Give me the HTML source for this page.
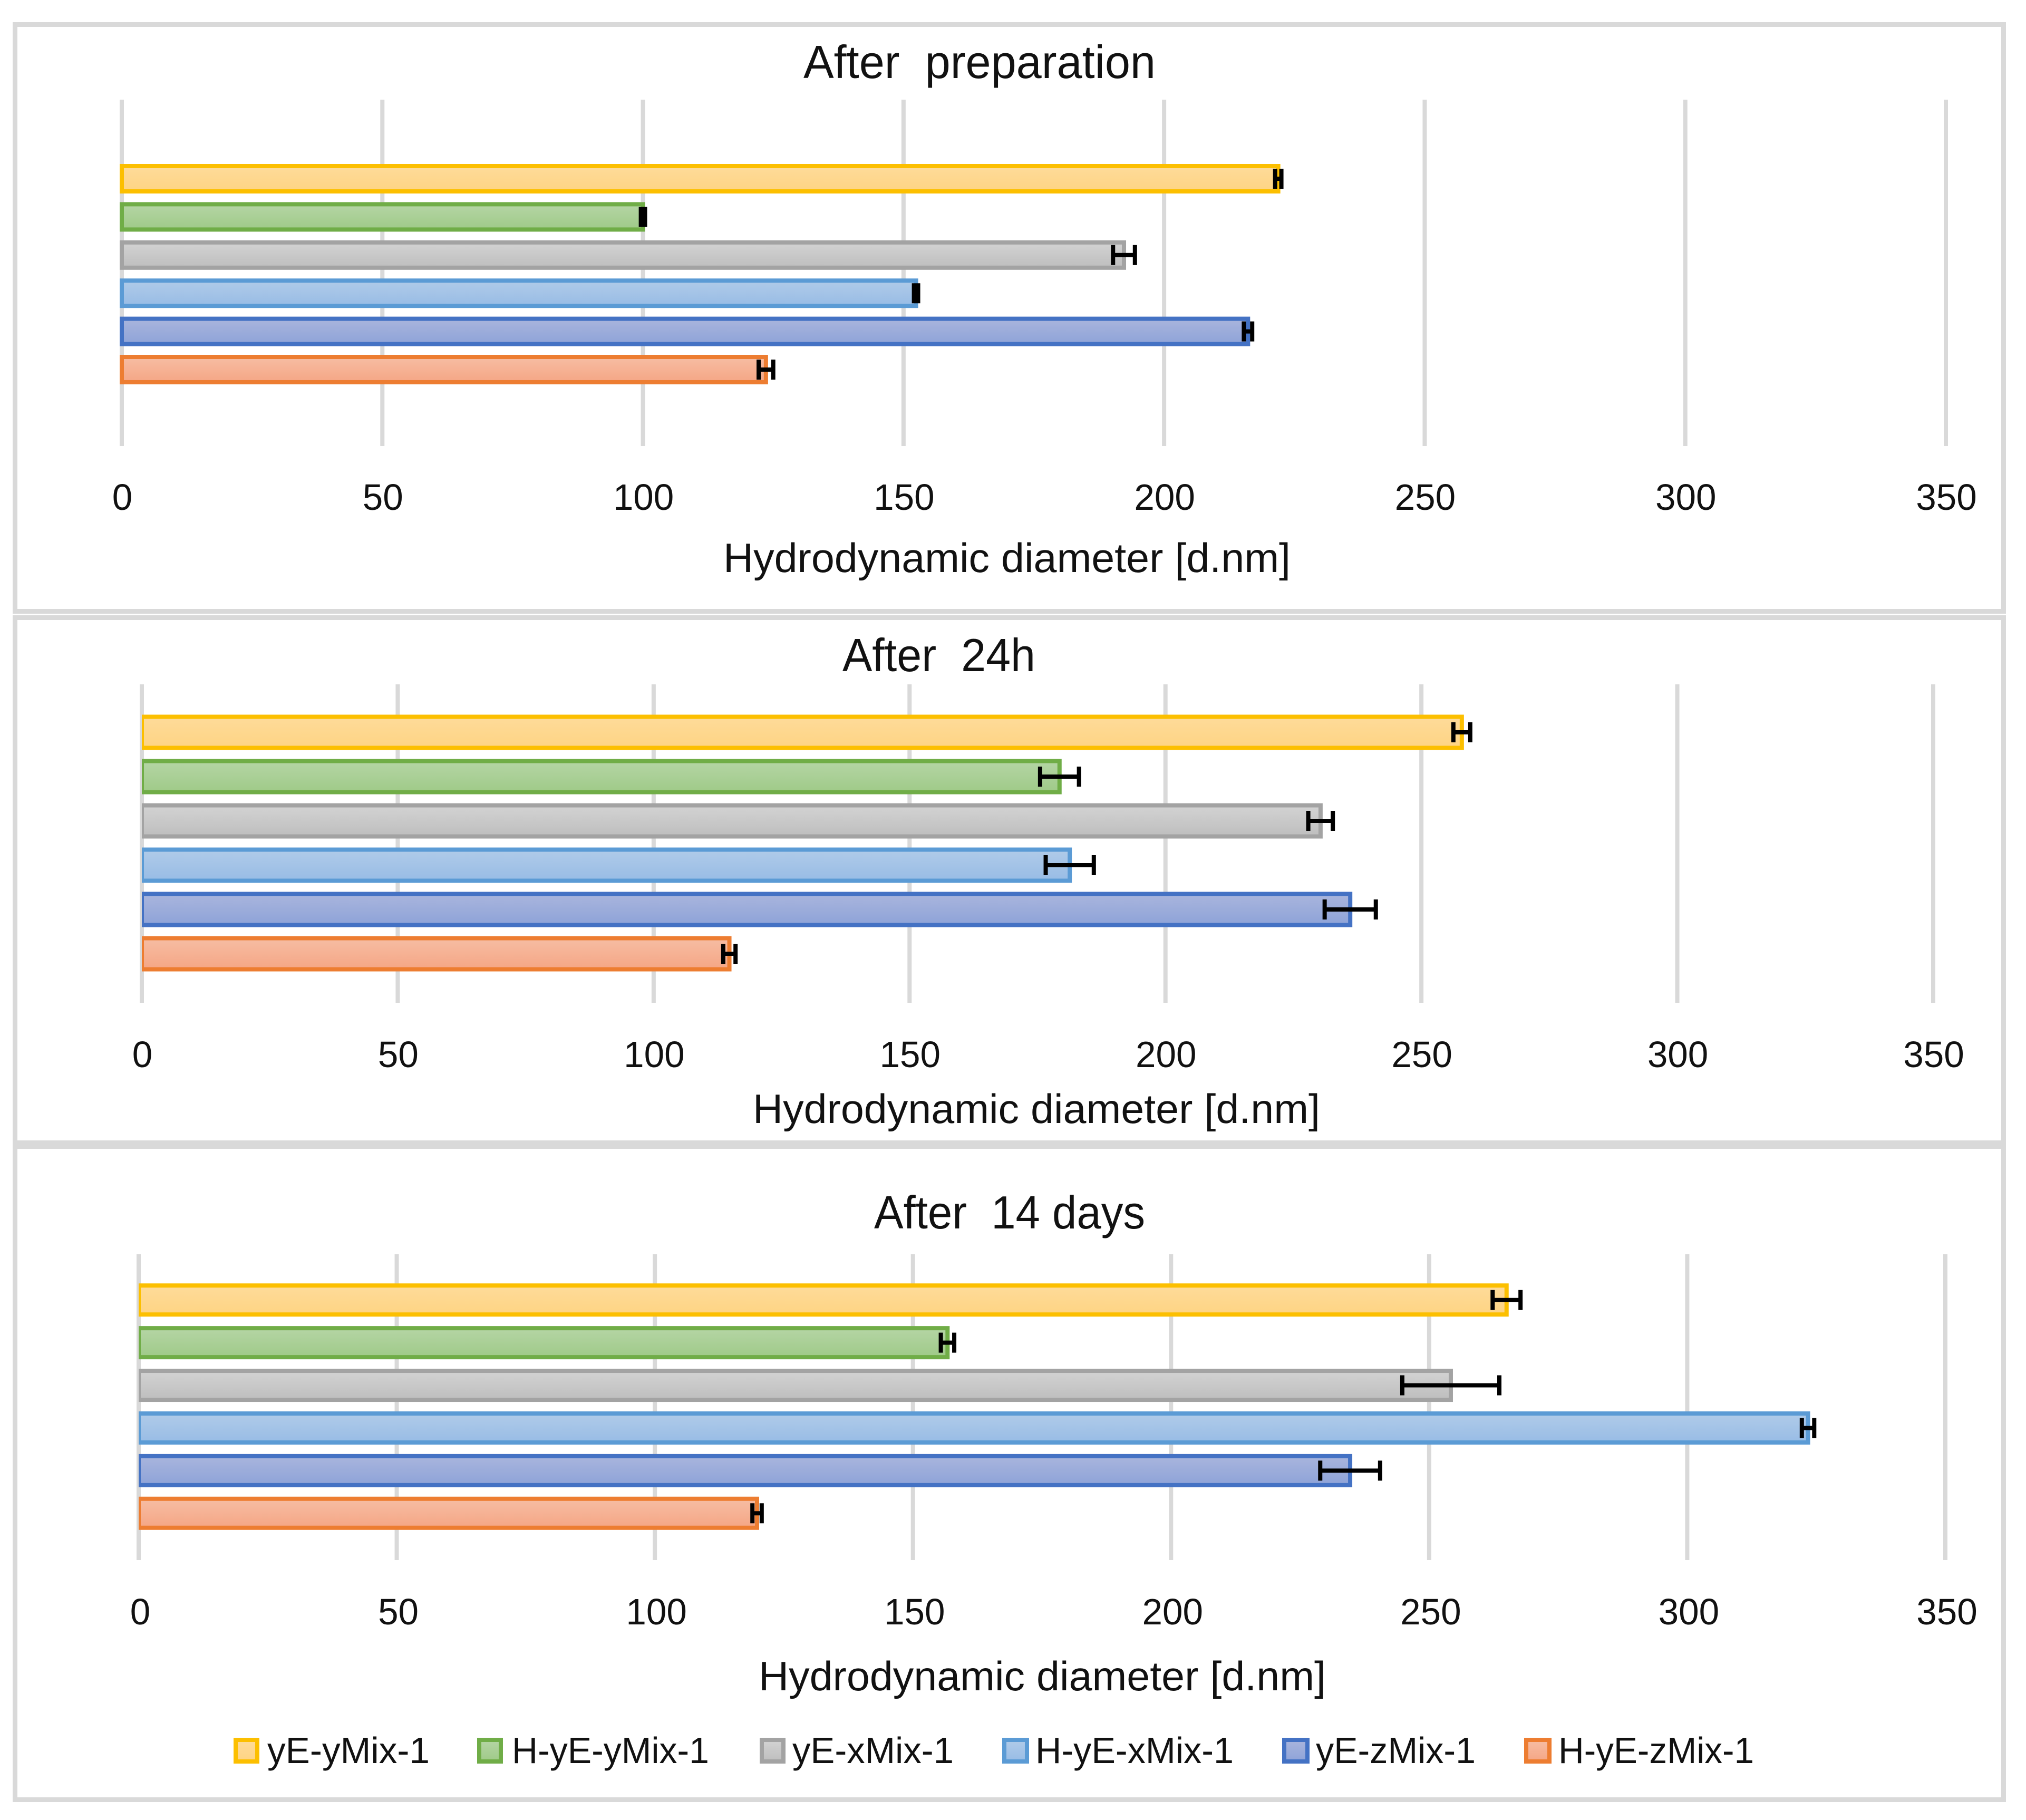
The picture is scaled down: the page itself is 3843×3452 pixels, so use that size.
<!DOCTYPE html>
<html lang="en">
<head>
<meta charset="utf-8">
<title>Hydrodynamic diameter over time</title>
<style>
  html, body { margin: 0; padding: 0; background: #fff; }
  svg { display: block; }
  text { font-family: "Liberation Sans", sans-serif; fill: #111; white-space: pre; }
  .frame { fill: #fff; stroke: #d9d9d9; stroke-width: 9; }
  .grid { stroke: #d9d9d9; stroke-width: 8; }
  .err { stroke: #000; fill: none; }
  .s0 { fill: url(#grad0); stroke: #fcbf00; stroke-width: 8; }
  .s1 { fill: url(#grad1); stroke: #70ad47; stroke-width: 8; }
  .s2 { fill: url(#grad2); stroke: #a3a3a3; stroke-width: 8; }
  .s3 { fill: url(#grad3); stroke: #5b9bd5; stroke-width: 8; }
  .s4 { fill: url(#grad4); stroke: #4472c4; stroke-width: 8; }
  .s5 { fill: url(#grad5); stroke: #ed7d31; stroke-width: 8; }
  .tick { font-size: 70px; text-anchor: middle; }
  .chart-title { font-size: 88px; }
  .axis-title { font-size: 78px; }
  .legend-text { font-size: 70px; }
</style>
</head>
<body>
<svg id="figure" xmlns="http://www.w3.org/2000/svg" width="3843" height="3452" viewBox="0 0 3843 3452">
  <defs>
    <linearGradient id="grad0" x1="0" y1="0" x2="0" y2="1"><stop offset="0" stop-color="#fedb9a"/><stop offset="1" stop-color="#fed483"/></linearGradient>
    <linearGradient id="grad1" x1="0" y1="0" x2="0" y2="1"><stop offset="0" stop-color="#b5d5a5"/><stop offset="1" stop-color="#9fca88"/></linearGradient>
    <linearGradient id="grad2" x1="0" y1="0" x2="0" y2="1"><stop offset="0" stop-color="#d3d3d3"/><stop offset="1" stop-color="#bebebe"/></linearGradient>
    <linearGradient id="grad3" x1="0" y1="0" x2="0" y2="1"><stop offset="0" stop-color="#b0cbe9"/><stop offset="1" stop-color="#98bce5"/></linearGradient>
    <linearGradient id="grad4" x1="0" y1="0" x2="0" y2="1"><stop offset="0" stop-color="#a9b5dd"/><stop offset="1" stop-color="#8ea3d8"/></linearGradient>
    <linearGradient id="grad5" x1="0" y1="0" x2="0" y2="1"><stop offset="0" stop-color="#f6bda3"/><stop offset="1" stop-color="#f5a685"/></linearGradient>
  </defs>

  <rect x="28.5" y="46.5" width="3772" height="1113" class="frame"/>
  <rect x="28.5" y="1171.5" width="3772" height="996" class="frame"/>
  <rect x="28.5" y="2174.5" width="3772" height="1239" class="frame"/>

  <g id="plots"></g>

  <text class="chart-title" x="1524" y="148" textLength="668" lengthAdjust="spacingAndGlyphs">After  preparation</text>
  <text class="axis-title" x="1372" y="1085" textLength="1076" lengthAdjust="spacingAndGlyphs">Hydrodynamic diameter [d.nm]</text>

  <text class="chart-title" x="1598" y="1273" textLength="366" lengthAdjust="spacingAndGlyphs">After  24h</text>
  <text class="axis-title" x="1428" y="2130" textLength="1076" lengthAdjust="spacingAndGlyphs">Hydrodynamic diameter [d.nm]</text>

  <text class="chart-title" x="1658" y="2330" textLength="514" lengthAdjust="spacingAndGlyphs">After  14 days</text>
  <text class="axis-title" x="1439" y="3206" textLength="1076" lengthAdjust="spacingAndGlyphs">Hydrodynamic diameter [d.nm]</text>

  <g>
    <g>
      <rect class="s0" x="447" y="3300" width="41" height="41"/>
      <text class="legend-text" x="507" y="3344" textLength="308" lengthAdjust="spacingAndGlyphs">yE-yMix-1</text>
    </g>
    <g>
      <rect class="s1" x="909" y="3300" width="41" height="41"/>
      <text class="legend-text" x="971" y="3344" textLength="374" lengthAdjust="spacingAndGlyphs">H-yE-yMix-1</text>
    </g>
    <g>
      <rect class="s2" x="1445" y="3300" width="41" height="41"/>
      <text class="legend-text" x="1503" y="3344" textLength="306" lengthAdjust="spacingAndGlyphs">yE-xMix-1</text>
    </g>
    <g>
      <rect class="s3" x="1905" y="3300" width="43" height="41"/>
      <text class="legend-text" x="1964" y="3344" textLength="376" lengthAdjust="spacingAndGlyphs">H-yE-xMix-1</text>
    </g>
    <g>
      <rect class="s4" x="2436" y="3300" width="44" height="41"/>
      <text class="legend-text" x="2496" y="3344" textLength="303" lengthAdjust="spacingAndGlyphs">yE-zMix-1</text>
    </g>
    <g>
      <rect class="s5" x="2895" y="3300" width="44" height="41"/>
      <text class="legend-text" x="2956" y="3344" textLength="371" lengthAdjust="spacingAndGlyphs">H-yE-zMix-1</text>
    </g>
  </g>
</svg>

<script>
const seriesNames = ['ye-ymix-1', 'h-ye-ymix-1', 'ye-xmix-1', 'h-ye-xmix-1', 'ye-zmix-1', 'h-ye-zmix-1'];
const tickValues = [0, 50, 100, 150, 200, 250, 300, 350];
const tickLabels = ['0', '50', '100', '150', '200', '250', '300', '350'];

const prepValues = [221.9, 100.0, 192.3, 152.4, 216.1, 123.6];
const prepErrors = [0.6, 0.4, 2.1, 0.4, 0.8, 1.4];

const day1Values = [257.9, 179.3, 230.3, 181.3, 236.1, 114.8];
const day1Errors = [1.65, 3.8, 2.4, 4.7, 5.0, 1.2];

const day14Values = [265.0, 156.7, 254.2, 323.4, 234.7, 119.8];
const day14Errors = [2.7, 1.3, 9.4, 1.2, 5.8, 0.9];

const AXIS_MAX = 350;
const SVG_NS = 'http://www.w3.org/2000/svg';

function make(tag, attrs, parent) {
  const el = document.createElementNS(SVG_NS, tag);
  for (const k in attrs) el.setAttribute(k, attrs[k]);
  parent.appendChild(el);
  return el;
}

function drawPanel(p, values, errors) {
  const root = document.getElementById('plots');
  const xAxis = function (v) { return p.left + (v / AXIS_MAX) * (p.right - p.left); };
  const yBand = function (i) { return p.center + (i - (values.length - 1) / 2) * p.step; };

  const group = make('g', {}, root);
  
  

  const clipId = 'clip-' + p.name;
  const clip = make('clipPath', { id: clipId }, group);
  make('rect', { x: p.left - p.clipPad, y: p.top, width: p.right - p.left + 20, height: p.bottom - p.top }, clip);

  tickValues.forEach(function (t, i) {
    const line = make('line', { x1: xAxis(t), x2: xAxis(t), y1: p.top, y2: p.bottom, class: 'grid' }, group);
    
    

    const label = make('text', {
      x: xAxis(t) + p.tickDx,
      y: p.tickY,
      class: 'tick',
      textLength: tickLabels[i].length * 38.5,
      lengthAdjust: 'spacingAndGlyphs'
    }, group);
    label.textContent = tickLabels[i];
    
    
  });

  values.forEach(function (v, i) {
    const cy = yBand(i);
    const bar = make('rect', {
      x: xAxis(0),
      y: cy - p.barH / 2,
      width: xAxis(v) - xAxis(0),
      height: p.barH,
      class: 's' + i,
      'clip-path': 'url(#' + clipId + ')'
    }, group);
    
    
  });

  values.forEach(function (v, i) {
    const cy = yBand(i);
    const lo = xAxis(v - errors[i]);
    const hi = xAxis(v + errors[i]);
    const err = make('path', {
      d: 'M' + lo + ' ' + cy + 'H' + hi +
         'M' + lo + ' ' + (cy - p.capH) + 'V' + (cy + p.capH) +
         'M' + hi + ' ' + (cy - p.capH) + 'V' + (cy + p.capH),
      class: 'err',
      'stroke-width': p.errW
    }, group);
    
    
  });
}

drawPanel({ name: 'after-preparation', left: 231, right: 3691, top: 189, bottom: 846, center: 520, step: 72.4, barH: 48, capH: 19, errW: 8, tickY: 967, tickDx: 1, clipPad: 4 }, prepValues, prepErrors);
drawPanel({ name: 'after-24h', left: 269, right: 3667, top: 1298, bottom: 1902, center: 1599, step: 84, barH: 59, capH: 19, errW: 8, tickY: 2024, tickDx: 1, clipPad: 0 }, day1Values, day1Errors);
drawPanel({ name: 'after-14-days', left: 263, right: 3690, top: 2379, bottom: 2959, center: 2668, step: 80.9, barH: 55, capH: 19, errW: 8, tickY: 3081, tickDx: 3, clipPad: 0 }, day14Values, day14Errors);
</script>
</body>
</html>
